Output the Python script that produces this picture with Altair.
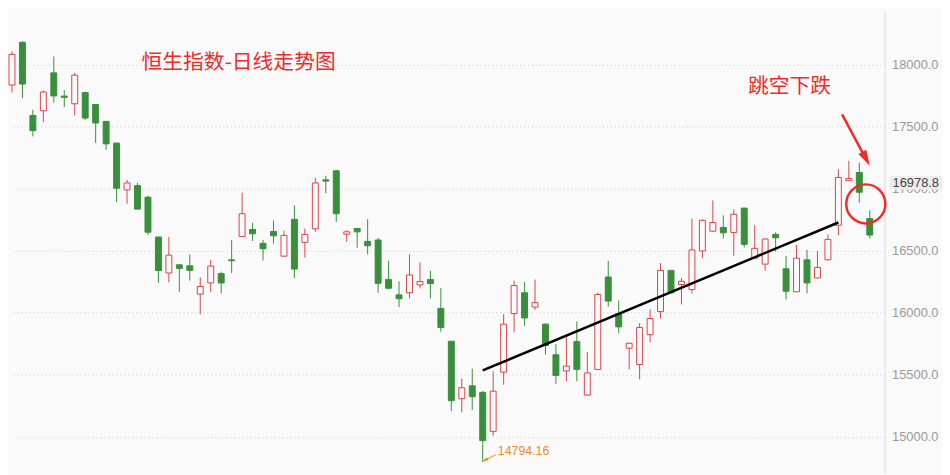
import altair as alt
import pandas as pd

# ---- data (daily OHLC, Hang Seng Index) ----
opens = [17834, 18179, 17589, 17627, 17932, 17745, 17683, 17773, 17677, 17541,
         17366, 16989, 17023, 16930, 16609, 16319, 16385, 16377, 16149, 16239,
         16314, 16425, 16614, 16670, 16558, 16654, 16455, 16752, 16566, 16675,
         17070, 17143, 16632, 16678, 16574, 16585, 16266, 16143, 16160, 16223,
         16266, 16034, 15769, 15306, 15410, 15357, 15043, 15520, 15992, 16160,
         16045, 15907, 15660, 15530, 15766, 15335, 15542, 16287, 15992, 15713,
         15582, 15822, 16008, 16340, 16226, 16186, 16497, 16656, 16686, 16646,
         16842, 16439, 16391, 16630, 16353, 16168, 16425, 16279, 16425, 16704,
         17063, 17129, 16758]
highs = [18105, 18185, 17635, 17790, 18065, 17794, 17932, 17780, 17680, 17545,
         17370, 17069, 17045, 16943, 16612, 16609, 16390, 16470, 16284, 16425,
         16330, 16585, 16967, 16723, 16585, 16744, 16659, 16864, 16678, 17087,
         17103, 17150, 16664, 16680, 16752, 16603, 16417, 16252, 16470, 16404,
         16338, 16199, 15770, 15468, 15548, 15367, 15527, 15987, 16258, 16247,
         16266, 15910, 15747, 15801, 15928, 15681, 16160, 16417, 16098, 15760,
         15915, 16026, 16399, 16345, 16279, 16758, 16750, 16904, 16784, 16832,
         16845, 16704, 16600, 16646, 16457, 16545, 16505, 16497, 16630, 17156,
         17223, 17209, 16824]
lows = [17775, 17727, 17420, 17536, 17693, 17656, 17589, 17552, 17368, 17313,
        16890, 16877, 16830, 16627, 16239, 16244, 16165, 16258, 15987, 16165,
        16154, 16319, 16610, 16577, 16420, 16555, 16450, 16279, 16444, 16651,
        16962, 16731, 16571, 16523, 16470, 16160, 16190, 16045, 16114, 16194,
        16114, 15845, 15207, 15195, 15215, 14794.16, 15008, 15420, 15841, 15893,
        16021, 15662, 15423, 15447, 15447, 15330, 15540, 16048, 15833, 15542,
        15463, 15761, 15952, 16155, 16066, 16154, 16439, 16650, 16598, 16459,
        16526, 16435, 16337, 16491, 16106, 16165, 16154, 16275, 16420, 16625,
        17060, 16885, 16598]
closes = [18081, 17842, 17467, 17778, 17746, 17735, 17914, 17568, 17528, 17360,
          17002, 17045, 16834, 16648, 16340, 16463, 16356, 16340, 16210, 16375,
          16239, 16418, 16797, 16635, 16515, 16619, 16622, 16351, 16630, 17045,
          17060, 16797, 16651, 16651, 16539, 16236, 16196, 16112, 16303, 16250,
          16234, 15880, 15290, 15394, 15322, 14968, 15367, 15907, 16218, 15957,
          16080, 15734, 15494, 15569, 15542, 15514, 16146, 16093, 15885, 15753,
          15880, 15952, 16340, 16160, 16252, 16505, 16744, 16726, 16643, 16792,
          16550, 16518, 16593, 16603, 16172, 16439, 16239, 16364, 16590, 17089,
          17081, 16970, 16625]

trend_idx = [45, 79]
trend_val = [15534, 16726]

y_ticks = [15000, 15500, 16000, 16500, 17000, 17500, 18000]
title_text = "恒生指数-日线走势图"
note_text = "跳空下跌"
low_text = "14794.16"
last_text = "16978.8"

RED = "#d9454a"
GREEN = "#3a8f3c"
BG = "#fafafa"
ANN_RED = "#ef2b2b"
ORANGE = "#ef8a2e"

df = pd.DataFrame({
    "idx": list(range(len(opens))),
    "open": opens, "high": highs, "low": lows, "close": closes,
})
df["dir"] = ["up" if c >= o else "down" for o, c in zip(opens, closes)]

xs = alt.X("idx:Q", scale=alt.Scale(domain=[-0.19, 83.42], nice=False, zero=False, padding=0), axis=None)
yscale = alt.Scale(domain=[14711, 18435], nice=False, zero=False)
yaxis = alt.Axis(orient="right", values=y_ticks, format=".1f", title="",
                 labelColor="#999999", labelFont="Liberation Sans", labelFontSize=13,
                 labelPadding=7, ticks=False, domain=True, domainColor="#dddddd",
                 grid=True, gridColor="#cccccc", gridDash=[1, 3], gridWidth=1)

wick = alt.Chart(df).mark_rule(strokeWidth=1).encode(
    x=xs,
    y=alt.Y("low:Q", scale=yscale, axis=yaxis),
    y2="high:Q",
    color=alt.Color("dir:N", scale=alt.Scale(domain=["up", "down"], range=[RED, GREEN]), legend=None),
)

body = alt.Chart(df).mark_bar(size=6, strokeWidth=1).encode(
    x=xs,
    y=alt.Y("open:Q", scale=yscale, axis=yaxis),
    y2="close:Q",
    fill=alt.Fill("dir:N", scale=alt.Scale(domain=["up", "down"], range=[BG, GREEN]), legend=None),
    stroke=alt.Stroke("dir:N", scale=alt.Scale(domain=["up", "down"], range=[RED, GREEN]), legend=None),
)

tdf = pd.DataFrame({"idx": trend_idx, "v": trend_val})
trend = alt.Chart(tdf).mark_line(color="black", strokeWidth=2.5).encode(
    x=xs, y=alt.Y("v:Q", scale=yscale, axis=yaxis)
)

one = pd.DataFrame({"a": [0]})

title = alt.Chart(pd.DataFrame({"t": [title_text]})).mark_text(
    align="left", baseline="middle", font="Noto Sans CJK SC", fontSize=21, color=ANN_RED
).encode(text="t:N", x=alt.value(133), y=alt.value(53))

note = alt.Chart(pd.DataFrame({"t": [note_text]})).mark_text(
    align="left", baseline="middle", font="Noto Sans CJK SC", fontSize=21, color=ANN_RED
).encode(text="t:N", x=alt.value(746), y=alt.value(77))

arrow_shaft = alt.Chart(one).mark_rule(color=ANN_RED, strokeWidth=2.5).encode(
    x=alt.value(841), y=alt.value(105), x2=alt.value(864), y2=alt.value(148)
)
ARROW_PATH = "M0,-1L0.45,0.6L-0.45,0.6Z"
arrow_head = alt.Chart(one).mark_point(
    shape=ARROW_PATH, filled=True, color=ANN_RED, opacity=1, size=400, angle=152
).encode(x=alt.value(864.3), y=alt.value(148.2))

circle = alt.Chart(one).mark_point(
    shape="circle", filled=False, color=ANN_RED, opacity=1, size=1560, strokeWidth=2.5
).encode(x=alt.value(865), y=alt.value(195.5))

low_label = alt.Chart(pd.DataFrame({"t": [low_text]})).mark_text(
    align="left", baseline="middle", font="Liberation Sans", fontSize=12.5, color=ORANGE
).encode(text="t:N", x=alt.value(493), y=alt.value(445))
low_shaft = alt.Chart(one).mark_rule(color=ORANGE, strokeWidth=1).encode(
    x=alt.value(491), y=alt.value(449), x2=alt.value(480), y2=alt.value(454.5)
)
low_head = alt.Chart(one).mark_point(
    shape=ARROW_PATH, filled=True, color=ORANGE, opacity=1, size=64, angle=243
).encode(x=alt.value(480.6), y=alt.value(454.2))

price_box = alt.Chart(one).mark_rect(color="#ececec").encode(
    x=alt.value(889), x2=alt.value(942), y=alt.value(167), y2=alt.value(181)
)
price_text = alt.Chart(pd.DataFrame({"t": [last_text]})).mark_text(
    align="left", baseline="middle", font="Liberation Sans", fontSize=13, color="#444444"
).encode(text="t:N", x=alt.value(892), y=alt.value(174.5))

chart = alt.layer(
    wick, body, trend, title, note, arrow_shaft, arrow_head, circle,
    low_label, low_shaft, low_head, price_box, price_text
).properties(
    width=884, height=467, padding=0, background=BG
).configure_view(stroke="transparent", fill=BG)

chart.save("out.html", embed_options={"renderer": "svg", "actions": False})
